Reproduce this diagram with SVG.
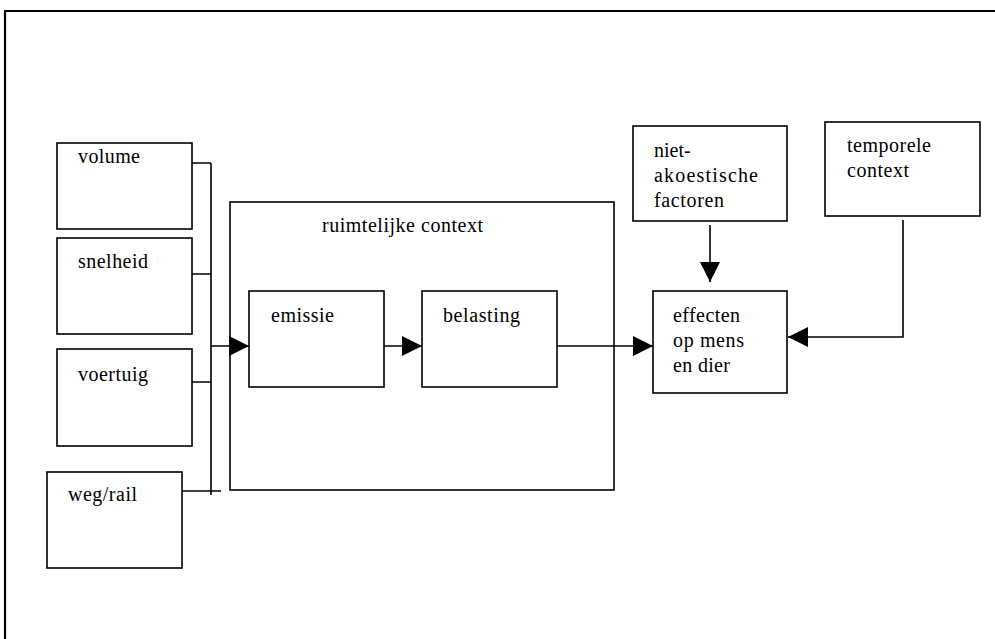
<svg xmlns="http://www.w3.org/2000/svg" width="995" height="639" viewBox="0 0 995 639">
<style>
.box{fill:#fff;stroke:#000;stroke-width:1.6}
.ln{fill:none;stroke:#000;stroke-width:1.6}
text{font-family:"Liberation Serif","Times New Roman",serif;font-size:20px;fill:#000}
</style>
<defs>
<marker id="ah" markerWidth="20" markerHeight="20" viewBox="0 0 20 20" refX="20" refY="10" orient="auto" markerUnits="userSpaceOnUse">
<path d="M0,0 L20,10 L0,20 Z" fill="#000"/>
</marker>
</defs>
<rect width="995" height="639" fill="#fff"/>
<g id="frame">
<path d="M4,11 H995 M5,10 V639" fill="none" stroke="#000" stroke-width="2.2"/>
</g>
<g id="ruimtelijke">
<rect class="box" x="230" y="202" width="384" height="288"/>
<text x="322" y="232" textLength="161" lengthAdjust="spacing">ruimtelijke context</text>
</g>
<g id="volume">
<rect class="box" x="57" y="143" width="135" height="86"/>
<text x="78" y="163" textLength="62" lengthAdjust="spacing">volume</text>
</g>
<g id="snelheid">
<rect class="box" x="57" y="238" width="135" height="96"/>
<text x="78" y="268" textLength="70" lengthAdjust="spacing">snelheid</text>
</g>
<g id="voertuig">
<rect class="box" x="57" y="349" width="135" height="97"/>
<text x="78" y="381" textLength="70" lengthAdjust="spacing">voertuig</text>
</g>
<g id="wegrail">
<rect class="box" x="47" y="472" width="135" height="96"/>
<text x="68" y="501" textLength="69" lengthAdjust="spacing">weg/rail</text>
</g>
<g id="emissie">
<rect class="box" x="249" y="291" width="135" height="96"/>
<text x="271" y="322" textLength="63" lengthAdjust="spacing">emissie</text>
</g>
<g id="belasting">
<rect class="box" x="422" y="291" width="135" height="96"/>
<text x="443" y="322" textLength="77" lengthAdjust="spacing">belasting</text>
</g>
<g id="effecten">
<rect class="box" x="653" y="291" width="134" height="102"/>
<text x="673" y="322" textLength="67" lengthAdjust="spacing">effecten</text>
<text x="673" y="347" textLength="71" lengthAdjust="spacing">op mens</text>
<text x="673" y="372" textLength="57" lengthAdjust="spacing">en dier</text>
</g>
<g id="niet-akoestisch">
<rect class="box" x="633" y="126" width="154" height="95"/>
<text x="654" y="157">niet-</text>
<text x="654" y="182" textLength="104" lengthAdjust="spacing">akoestische</text>
<text x="654" y="207" textLength="70" lengthAdjust="spacing">factoren</text>
</g>
<g id="temporele">
<rect class="box" x="825" y="122" width="155" height="94"/>
<text x="847" y="152" textLength="84" lengthAdjust="spacing">temporele</text>
<text x="847" y="177" textLength="62" lengthAdjust="spacing">context</text>
</g>
<g id="connectors">
<path class="ln" d="M192,163 H211 M192,274 H211 M192,382 H211 M182,491 H221 M211,163 V495"/>
<path class="ln" d="M211,346 H249" marker-end="url(#ah)"/>
<path class="ln" d="M384,346 H422" marker-end="url(#ah)"/>
<path class="ln" d="M557,346 H653" marker-end="url(#ah)"/>
<path class="ln" d="M710,225 V282" marker-end="url(#ah)"/>
<path class="ln" d="M903,220 V337 H788" marker-end="url(#ah)"/>
</g>
</svg>
